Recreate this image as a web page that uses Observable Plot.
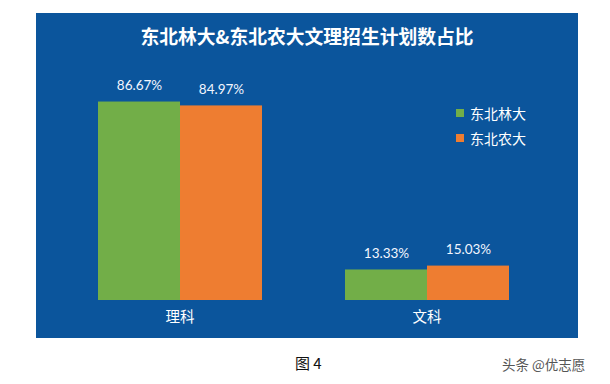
<!DOCTYPE html>
<html>
<head>
<meta charset="utf-8">
<script src="https://cdn.jsdelivr.net/npm/d3@7"></script>
<script src="https://cdn.jsdelivr.net/npm/@observablehq/plot@0.6"></script>
<style>
  html, body { margin: 0; padding: 0; background: #fff; }
  #page { position: relative; width: 610px; height: 384px; overflow: hidden; background: #fff;
          font-family: "Noto Sans CJK SC", "Noto Sans", sans-serif; }
  #panel { position: absolute; left: 36px; top: 13px; width: 542px; height: 325px; background: #0b559c; }
  #panel svg { position: absolute; left: 0; top: 0; }
  #title { position: absolute; left: 0; width: 542px; top: 10px; text-align: center; color: #fff;
           font-size: 18.8px; font-weight: 700; line-height: 26px; }
  #legend { position: absolute; left: 420px; top: 87px; color: #fff; font-size: 14px; }
  #legend .row { display: flex; align-items: center; height: 25px; }
  #legend .sw { width: 8px; height: 8px; margin-right: 6px; }
  #caption { position: absolute; left: 295px; top: 352px; font-size: 15px; color: #111; }
  #source { position: absolute; left: 502px; top: 354px; font-size: 13.5px; color: #555; }
</style>
</head>
<body>
<div id="page">
  <div id="panel">
    <div id="title"></div>
    <div id="legend"></div>
  </div>
  <div id="caption">图 4</div>
  <div id="source">头条 @优志愿</div>
</div>
<script>
// Share of science / liberal-arts enrollment plan for the two universities
const chartTitle = "东北林大&东北农大文理招生计划数占比";
const categories = ["理科", "文科"];
const series = ["东北林大", "东北农大"];
const linda = [86.67, 13.33];   // 东北林大
const nongda = [84.97, 15.03];  // 东北农大
const colors = ["#72ae48", "#ee7d31"];

const rows = [];
categories.forEach((c, i) => {
  rows.push({category: c, school: series[0], value: linda[i]});
  rows.push({category: c, school: series[1], value: nongda[i]});
});

document.getElementById("title").textContent = chartTitle;

const legend = document.getElementById("legend");
series.forEach((s, i) => {
  const row = document.createElement("div");
  row.className = "row";
  const sw = document.createElement("div");
  sw.className = "sw";
  sw.style.background = colors[i];
  const label = document.createElement("span");
  label.textContent = s;
  row.append(sw, label);
  legend.append(row);
});

const chart = Plot.plot({
  width: 542,
  height: 325,
  marginTop: 58,
  marginBottom: 38,
  marginLeft: 60,
  marginRight: 68,
  style: {background: "transparent", color: "#fff", fontFamily: "\"Noto Sans CJK SC\", sans-serif"},
  fx: {domain: categories, paddingInner: 0.3306, paddingOuter: 0},
  x: {domain: series, padding: 0, axis: null},
  y: {domain: [0, 100], axis: null},
  color: {domain: series, range: colors},
  marks: [
    Plot.barY(rows, {fx: "category", x: "school", y: "value", fill: "school", inset: 0}),
    Plot.text(rows, {fx: "category", x: "school", y: "value",
      text: d => d.value.toFixed(2) + "%", dy: -16, fill: "#f2f6ff",
      fontSize: 13.5, fontFamily: "Lato, sans-serif"}),
    Plot.axisFx({anchor: "bottom", tickSize: 0, tickPadding: 11, label: null,
      fontSize: 14.5, fill: "#fff"})
  ]
});
document.getElementById("panel").prepend(chart);
</script>
</body>
</html>
